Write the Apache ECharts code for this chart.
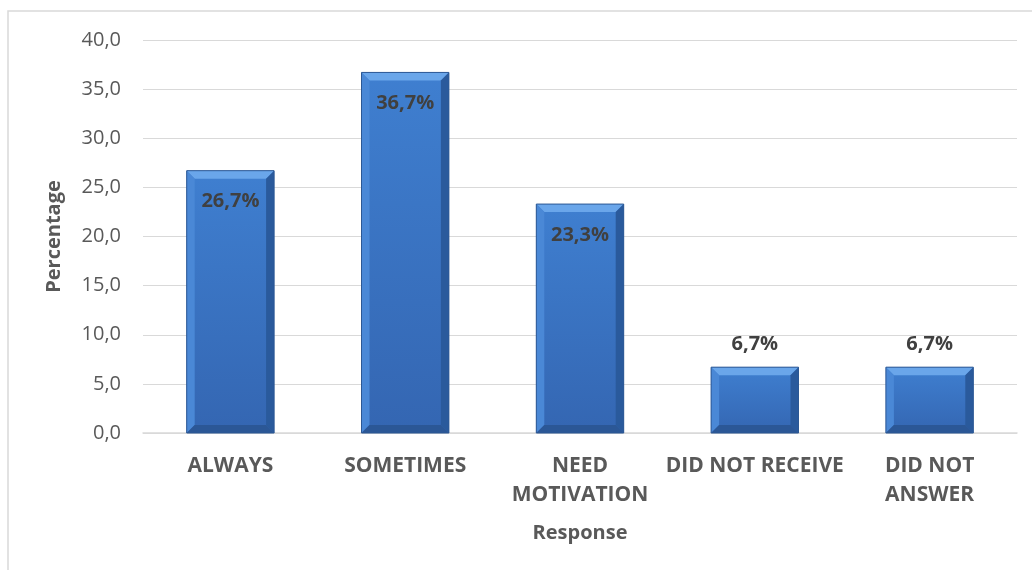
<!DOCTYPE html>
<html>
<head>
<meta charset="utf-8">
<script src="https://cdn.jsdelivr.net/npm/echarts@6/dist/echarts.min.js"></script>
<style>
  html, body { margin: 0; padding: 0; background: #fff; }
  #chart { width: 1032px; height: 570px; }
</style>
</head>
<body>
<div id="chart"></div>
<script>
// Survey responses, share of respondents (%)
const categories = ['ALWAYS', 'SOMETIMES', 'NEED\nMOTIVATION', 'DID NOT RECEIVE', 'DID NOT\nANSWER'];
const percentages = [26.7, 36.7, 23.3, 6.7, 6.7];
const yTicks = { min: 0, max: 40, interval: 5 };

const FONT = '"Open Sans", Lato, sans-serif';
const TEXT = '#595959';

function fmtPct(v) { return v.toFixed(1).replace('.', ',') + '%'; }

const chart = echarts.init(document.getElementById('chart'));

// Bevel edges drawn over each bar
function renderBevel(params, api) {
  const i = api.value(0);
  const v = api.value(1);
  const top = api.coord([i, v]);
  const base = api.coord([i, 0]);
  const w = api.size([1, 0])[0] * 0.5;
  const x0 = top[0] - w / 2, x1 = top[0] + w / 2;
  const y0 = top[1], y1 = base[1];
  const b = Math.min(8, (y1 - y0) / 3);
  return {
    type: 'group',
    children: [
      { type: 'polygon', shape: { points: [[x0, y0], [x1, y0], [x1 - b, y0 + b], [x0 + b, y0 + b]] },
        style: { fill: '#6aa6ea' } },
      { type: 'polygon', shape: { points: [[x0, y0], [x0 + b, y0 + b], [x0 + b, y1 - b], [x0, y1]] },
        style: { fill: '#4a88d6' } },
      { type: 'polygon', shape: { points: [[x1, y0], [x1, y1], [x1 - b, y1 - b], [x1 - b, y0 + b]] },
        style: { fill: '#2a5a9c' } },
      { type: 'polygon', shape: { points: [[x0, y1], [x0 + b, y1 - b], [x1 - b, y1 - b], [x1, y1]] },
        style: { fill: '#2b5796' } },
      { type: 'rect', shape: { x: x0, y: y0, width: w, height: y1 - y0 },
        style: { fill: 'none', stroke: '#2c5894', lineWidth: 1 } }
    ]
  };
}

chart.setOption({
  animation: false,
  backgroundColor: '#fff',
  graphic: [{
    type: 'rect',
    shape: { x: 8, y: 11, width: 1040, height: 580 },
    style: { fill: 'none', stroke: '#d9d9d9', lineWidth: 1.5 },
    silent: true
  }],
  grid: { left: 143, right: 15, top: 40, bottom: 137 },
  xAxis: {
    type: 'category',
    data: categories,
    name: 'Response',
    nameLocation: 'middle',
    nameGap: 90,
    nameTextStyle: { fontFamily: FONT, fontSize: 20, fontWeight: 'bold', color: TEXT },
    axisLine: { lineStyle: { color: '#d9d9d9', width: 1.5 } },
    axisTick: { show: false },
    axisLabel: {
      fontFamily: FONT, fontSize: 21, fontWeight: 'bold', color: TEXT,
      lineHeight: 29, margin: 19, interval: 0
    }
  },
  yAxis: {
    type: 'value',
    min: yTicks.min, max: yTicks.max, interval: yTicks.interval,
    name: 'Percentage',
    nameLocation: 'middle',
    nameGap: 79,
    nameTextStyle: { fontFamily: FONT, fontSize: 20, fontWeight: 'bold', color: TEXT },
    axisLine: { show: false },
    axisTick: { show: false },
    splitLine: { lineStyle: { color: '#d9d9d9', width: 1.2 } },
    axisLabel: {
      fontFamily: FONT, fontSize: 20, color: TEXT, margin: 22,
      formatter: v => v.toFixed(1).replace('.', ',')
    }
  },
  series: [
    {
      type: 'bar',
      data: percentages.map(v => ({
        value: v,
        label: v > 15
          ? { show: true, position: 'insideTop', distance: 21 }
          : { show: true, position: 'top', distance: 13 }
      })),
      barWidth: '50%',
      itemStyle: {
        color: new echarts.graphic.LinearGradient(0, 0, 0, 1, [
          { offset: 0, color: '#3f7fd0' },
          { offset: 1, color: '#3466b2' }
        ])
      },
      label: {
        fontFamily: FONT, fontSize: 20, fontWeight: 'bold', color: '#404040',
        formatter: p => fmtPct(p.value)
      },
      z: 2
    },
    {
      type: 'custom',
      renderItem: renderBevel,
      data: percentages.map((v, i) => [i, v]),
      silent: true,
      z: 3
    }
  ]
});
</script>
</body>
</html>
